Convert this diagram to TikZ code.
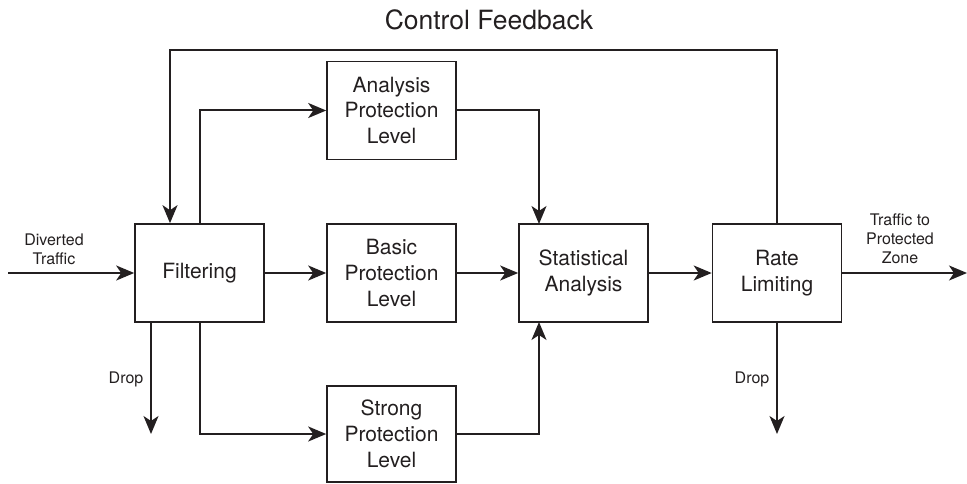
\documentclass[tikz,border=0pt]{standalone}
\usepackage{fontspec}
\setmainfont{TeX Gyre Heros}
\usetikzlibrary{arrows.meta,calc}
\definecolor{ink}{RGB}{35,31,32}
\begin{document}
\begin{tikzpicture}[x=1pt,y=-1pt,
  box/.style={draw=ink,text=ink,line width=1.6pt,minimum width=129pt,minimum height=98pt,inner sep=0pt,align=center,font=\fontsize{21}{25.7}\selectfont},
  conn/.style={draw=ink,line width=2pt},
  arr/.style={conn,-{Stealth[length=18pt,width=15pt,inset=5pt]}},
  lbl/.style={text=ink,font=\fontsize{16}{19}\selectfont,align=center,inner sep=0pt}]
\useasboundingbox (0,0) rectangle (967,484);
% boxes
\node[box] (filt) at (199.5,273) {Filtering};
\node[box] (anal) at (391.5,110.5) {Analysis\\Protection\\Level};
\node[box] (basic) at (391.5,273) {Basic\\Protection\\Level};
\node[box,minimum height=96pt] (strong) at (391.5,434) {Strong\\Protection\\Level};
\node[box] (stat) at (583.5,273) {Statistical\\Analysis};
\node[box] (rate) at (777,273) {Rate\\Limiting};
% labels
\node[text=ink,font=\fontsize{26.5}{30}\selectfont,inner sep=0pt] (title) at (489,20) {Control Feedback};
\node[lbl] (inlbl) at (54,249) {Diverted\\Traffic};
\node[lbl] (outlbl) at (900,239) {Traffic to\\Protected\\Zone};
\node[lbl] (drop1) at (126,379) {Drop};
\node[lbl] (drop2) at (752,379) {Drop};
% free ends
\coordinate (inS) at (8,273);
\coordinate (outE) at (967,273);
\coordinate (d1) at (151,434);
\coordinate (d2) at (777,434);
\coordinate (fbL) at (170,50);
\coordinate (statNin) at (539,224);
\coordinate (statSin) at (539,322);
% main flow
\draw[arr] (inS) -- (filt.west);
\draw[arr] (filt.east) -- (basic.west);
\draw[arr] (basic.east) -- (stat.west);
\draw[arr] (stat.east) -- (rate.west);
\draw[arr] (rate.east) -- (outE);
% branches
\draw[arr] (filt.north) |- (anal.west);
\draw[arr] (filt.south) |- (strong.west);
\draw[arr] (anal.east) -| (statNin);
\draw[arr] (strong.east) -| (statSin);
% drops
\draw[arr] (filt.south -| d1) -- (d1);
\draw[arr] (rate.south) -- (d2);
% feedback
\draw[arr] (rate.north) |- (fbL) -- (filt.north -| fbL);
\end{tikzpicture}
\end{document}
